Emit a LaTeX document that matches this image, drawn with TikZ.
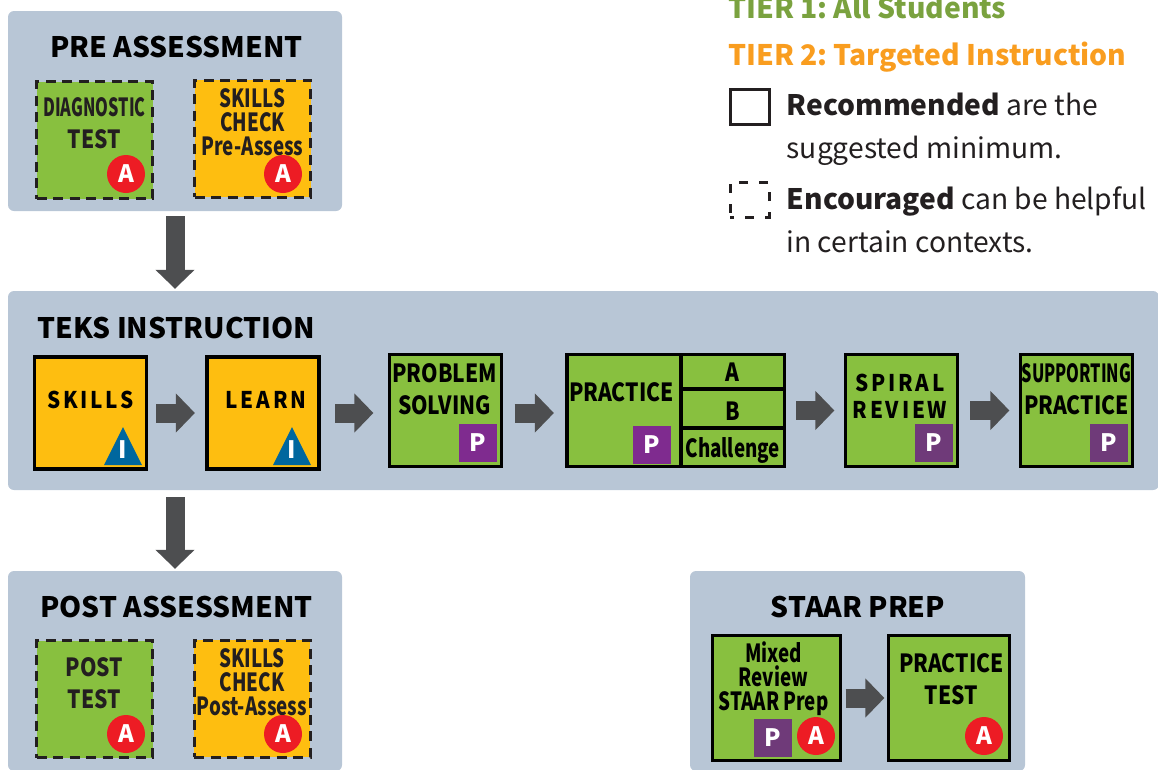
\documentclass[tikz,border=0pt]{standalone}
\usepackage{fontspec}
\setmainfont{Noto Sans CJK JP}
\newfontfamily\slimfont[FakeStretch=0.65]{Noto Sans CJK JP}
\newfontfamily\narrowfont[FakeStretch=0.75]{Noto Sans CJK JP}
\newfontfamily\semifont[FakeStretch=0.84]{Noto Sans CJK JP}
\newfontfamily\widefont[FakeStretch=0.9,LetterSpace=12]{Noto Sans CJK JP}
\usetikzlibrary{arrows.meta,positioning,shapes.geometric}
\definecolor{panelblue}{HTML}{B8C6D6}
\definecolor{tilegreen}{HTML}{88C03F}
\definecolor{tileyellow}{HTML}{FEBE10}
\definecolor{ink}{HTML}{231F20}
\definecolor{badgered}{HTML}{ED1C24}
\definecolor{badgepurple}{HTML}{6F3A79}
\definecolor{brightpurple}{HTML}{7F2B8F}
\definecolor{badgeblue}{HTML}{00679E}
\definecolor{flowgray}{HTML}{4D4E50}
\definecolor{tieronegreen}{HTML}{7AA23F}
\definecolor{tiertwoorange}{HTML}{F99D1F}
\tikzset{
	panel/.style={fill=panelblue,rounded corners=6pt,inner sep=0pt},
	title/.style={anchor=base,font=\fontsize{28.2}{32}\selectfont\bfseries},
	tile/.style={draw=black,line width=3.2pt,inner sep=0pt,minimum width=112pt,minimum height=112pt},
	opt/.style={draw=ink,line width=3pt,dash pattern=on 10pt off 6.5pt,inner sep=0pt,minimum width=116pt,minimum height=117pt},
	word/.style={align=center,inner sep=0pt,font=\fontsize{25}{32}\selectfont\bfseries\semifont},
	tightword/.style={align=center,inner sep=0pt,font=\fontsize{25}{24}\selectfont\bfseries\narrowfont},
	spaced/.style={align=center,inner sep=0pt,font=\fontsize{23}{27}\selectfont\bfseries\widefont},
	aball/.style={circle,fill=badgered,text=white,inner sep=0pt,minimum size=38pt,font=\fontsize{24}{24}\selectfont\bfseries},
	pbox/.style={fill=badgepurple,text=white,inner sep=0pt,minimum size=38pt,font=\fontsize{24}{24}\selectfont\bfseries},
	iglyph/.style={text=white,inner sep=0pt,font=\fontsize{24}{24}\selectfont\bfseries},
	flow/.style={flowgray,line width=19pt,-{Triangle[length=19pt,width=38pt]}},
	legend/.style={anchor=west,align=left,inner sep=0pt,text=ink,font=\fontsize{28.2}{43}\selectfont},
	tier/.style={anchor=base west,inner sep=0pt,font=\fontsize{28.3}{30}\selectfont\bfseries},
}
\begin{document}
\begin{tikzpicture}[x=1pt,y=-1pt]
	\useasboundingbox (0,0) rectangle (1158,769);
	\clip (0,0) rectangle (1158,769);
	% panels
	\node[panel,minimum width=334pt,minimum height=200pt] (pre) at (175,111) {};
	\node[panel,minimum width=1151pt,minimum height=199pt] (teks) at (583.5,390.5) {};
	\node[panel,minimum width=334pt,minimum height=200pt] (post) at (175,671) {};
	\node[panel,minimum width=335pt,minimum height=200pt] (staar) at (857.5,671) {};
	\node[title] (pretitle) at (176.5,57) {PRE ASSESSMENT};
	\node[title] (tekstitle) at (176.5,338) {TEKS INSTRUCTION};
	\node[title] (posttitle) at (176.5,617) {POST ASSESSMENT};
	\node[title] (staartitle) at (858,617) {STAAR PREP};
	% pre assessment
	\node[opt,fill=tilegreen] (diag) at (94.5,140) {};
	\node[word,text=ink] (diagtext) at (94.5,123) {{\slimfont DIAGNOSTIC}\\TEST};
	\node[aball] (diagball) at (126,174) {A};
	\node[opt,fill=tileyellow] (precheck) at (252.5,138.5) {};
	\node[tightword,text=ink] (prechecktext) at (252.5,122) {SKILLS\\CHECK\\Pre-Assess};
	\node[aball] (precheckball) at (283,174) {A};
	% instruction row
	\node[tile,fill=tileyellow] (skills) at (90.5,413) {};
	\node[spaced] (skillstext) at (90.5,400) {SKILLS};
	\fill[badgeblue] (123,427) -- (142,465) -- (104,465) -- cycle;
	\node[iglyph] (skillsi) at (123,450) {I};
	\node[tile,fill=tileyellow] (learn) at (263,413) {};
	\node[spaced] (learntext) at (266,400) {LEARN};
	\fill[badgeblue] (292,427) -- (311,465) -- (273,465) -- cycle;
	\node[iglyph] (learni) at (292,450) {I};
	\node[tile,fill=tilegreen] (problem) at (445.5,410.5) {};
	\node[word] (problemtext) at (444.5,389) {PROBLEM\\SOLVING};
	\node[pbox,fill=brightpurple] (problemp) at (478,443) {P};
	\node[tile,fill=tilegreen,minimum width=114pt] (practice) at (624,410.5) {};
	\node[word] (practicetext) at (621.5,392) {PRACTICE};
	\node[pbox,fill=brightpurple] (practicep) at (652,445) {P};
	\node[tile,word,fill=tilegreen,minimum width=103.5pt,minimum height=34.5pt,text height=19pt,text depth=0pt] (parta) at (732.75,371.75) {A};
	\node[tile,word,fill=tilegreen,minimum width=103.5pt,minimum height=39pt,text height=24pt,text depth=0pt] (partb) at (732.75,408.5) {B};
	\node[tile,tightword,fill=tilegreen,minimum width=103.5pt,minimum height=38.5pt,text depth=0pt] (partc) at (732.75,447.25) {Challenge};
	\node[tile,fill=tilegreen] (spiral) at (901.5,410.5) {};
	\node[spaced] (spiraltext) at (900,396) {SPIRAL\\REVIEW};
	\node[pbox] (spiralp) at (934,443) {P};
	\node[tile,fill=tilegreen] (supporting) at (1076.5,410.5) {};
	\node[word] (supportingtext) at (1076.5,389) {{\slimfont SUPPORTING}\\PRACTICE};
	\node[pbox] (supportingp) at (1109,443) {P};
	% post assessment
	\node[opt,fill=tilegreen] (posttest) at (94.5,699) {};
	\node[word,text=ink] (posttesttext) at (94.5,683) {POST\\TEST};
	\node[aball] (posttestball) at (126,734) {A};
	\node[opt,fill=tileyellow] (postcheck) at (252,698.5) {};
	\node[tightword,text=ink] (postchecktext) at (252,682) {SKILLS\\CHECK\\Post-Assess};
	\node[aball] (postcheckball) at (283,734) {A};
	% staar prep
	\node[tile,fill=tilegreen,minimum width=128pt,minimum height=125pt] (mixed) at (776.5,698) {};
	\node[tightword] (mixedtext) at (773.5,678.5) {Mixed\\Review\\STAAR Prep};
	\node[pbox] (mixedp) at (773,738) {P};
	\node[aball] (mixedball) at (816,736) {A};
	\node[tile,fill=tilegreen,minimum width=121pt,minimum height=125pt] (ptest) at (949,698) {};
	\node[word] (ptesttext) at (951.5,679) {PRACTICE\\TEST};
	\node[aball] (ptestball) at (984,736) {A};
	% flow arrows
	\draw[flow,shorten <=5pt,shorten >=2pt] (pre.south) -- (pre.south |- teks.north);
	\draw[flow,shorten <=7pt,shorten >=2pt] (post.north |- teks.south) -- (post.north);
	\draw[flow,shorten <=8pt,shorten >=10.5pt] (skills.east) -- (learn.west);
	\draw[flow,shorten <=14.5pt,shorten >=14.5pt] (learn.east) -- (problem.west |- learn.east);
	\draw[flow,shorten <=11.5pt,shorten >=11.5pt] (problem.east |- learn.east) -- (practice.west |- learn.east);
	\draw[flow,shorten <=10pt,shorten >=9.5pt] (partb.east |- spiral.west) -- (spiral.west);
	\draw[flow,shorten <=11pt,shorten >=9.5pt] (spiral.east) -- (supporting.west);
	\draw[flow,shorten <=3.5pt,shorten >=2.5pt] (mixed.east) -- (ptest.west);
	% legend
	\node[tier,text=tieronegreen] (tierone) at (728,18) {TIER 1:\kern-3pt{} All Students};
	\node[tier,text=tiertwoorange] (tiertwo) at (728,65) {TIER 2:\kern-3pt{} Targeted Instruction};
	\node[draw=ink,line width=3pt,minimum width=39pt,minimum height=35pt,inner sep=0pt] (recbox) at (749.5,106.5) {};
	\node[legend] (rectext) at (786.5,129) {\textbf{Recommended} are the\\suggested minimum.};
	\node[draw=ink,line width=3pt,dash pattern=on 9pt off 11pt,dash phase=5pt,minimum width=39pt,minimum height=35pt,inner sep=0pt] (encbox) at (749.5,199.5) {};
	\node[legend] (enctext) at (786.5,219.5) {\textbf{Encouraged} can be helpful\\in certain contexts.};
\end{tikzpicture}
\end{document}
